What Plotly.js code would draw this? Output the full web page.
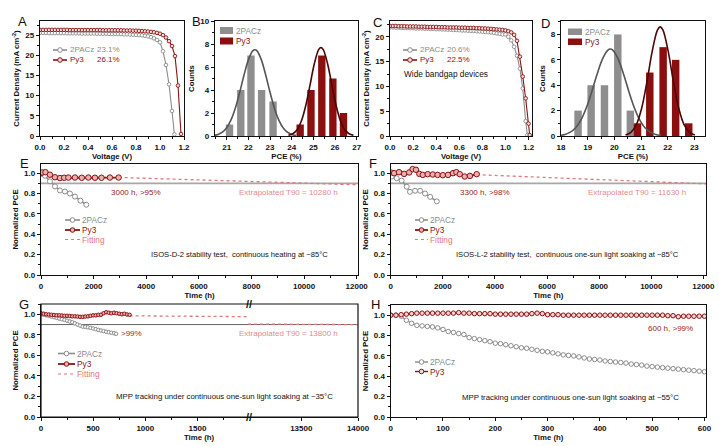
<!DOCTYPE html>
<html><head><meta charset="utf-8">
<script src="https://cdn.plot.ly/plotly-3.0.1.min.js"></script>
<style>html,body{margin:0;padding:0;background:#fff}#chart{width:719px;height:446px}</style>
</head><body><div id="chart"></div>
<script>
// ---------- DATA ----------
// A: J-V (normal bandgap)
const A_V_2PACz = [0,0.025,0.05,0.075,0.1,0.125,0.15,0.175,0.2,0.225,0.25,0.275,0.3,0.325,0.35,0.375,0.4,0.425,0.45,0.475,0.5,0.525,0.55,0.575,0.6,0.625,0.65,0.675,0.7,0.725,0.75,0.775,0.8,0.825,0.85,0.875,0.9,0.925,0.95,0.975,1.0,1.025,1.05,1.075,1.1,1.12];
const A_J_2PACz = [25.55,25.55,25.55,25.5,25.5,25.5,25.5,25.5,25.5,25.45,25.45,25.45,25.45,25.45,25.4,25.4,25.4,25.4,25.4,25.35,25.35,25.35,25.35,25.3,25.3,25.3,25.25,25.25,25.2,25.2,25.15,25.1,25.05,25.0,24.95,24.85,24.7,24.5,24.2,23.8,23.2,21.0,17.6,12.8,6.2,0.4];
const A_V_Py3 = [0,0.025,0.05,0.075,0.1,0.125,0.15,0.175,0.2,0.225,0.25,0.275,0.3,0.325,0.35,0.375,0.4,0.425,0.45,0.475,0.5,0.525,0.55,0.575,0.6,0.625,0.65,0.675,0.7,0.725,0.75,0.775,0.8,0.825,0.85,0.875,0.9,0.925,0.95,0.975,1.0,1.025,1.05,1.075,1.1,1.125,1.15,1.175];
const A_J_Py3 = [26.3,26.3,26.3,26.3,26.3,26.3,26.3,26.3,26.3,26.3,26.25,26.25,26.25,26.25,26.25,26.25,26.25,26.25,26.25,26.25,26.25,26.2,26.2,26.2,26.2,26.2,26.2,26.2,26.15,26.15,26.15,26.1,26.1,26.05,26.0,25.95,25.9,25.8,25.7,25.55,25.35,25.0,24.4,23.5,22.3,19.8,12.5,0.5];
// B: PCE histogram (normal bandgap)
const B_PCE_2PACz = [21.13,21.65,22.12,22.61,23.14];
const B_N_2PACz = [1,4,7,4,3];
const B_PCE_Py3 = [24.39,24.89,25.39,25.9,26.39];
const B_N_Py3 = [1,4,7,5,2];
const B_FIT_X_2PACz = [20.4,20.6,20.8,21.0,21.2,21.4,21.6,21.8,22.0,22.2,22.3,22.4,22.6,22.8,23.0,23.2,23.4,23.6,23.8,24.0,24.2];
const B_FIT_Y_2PACz = [0.05,0.14,0.33,0.72,1.40,2.43,3.80,5.30,6.62,7.40,7.5,7.40,6.62,5.30,3.80,2.43,1.40,0.72,0.33,0.14,0.05];
const B_FIT_X_Py3 = [23.85,24.05,24.25,24.45,24.65,24.85,25.05,25.25,25.35,25.45,25.65,25.85,26.05,26.25,26.45,26.65,26.85];
const B_FIT_Y_Py3 = [0.06,0.20,0.55,1.32,2.65,4.47,6.33,7.53,7.7,7.53,6.33,4.47,2.65,1.32,0.55,0.20,0.06];
// C: J-V (wide bandgap)
const C_V_2PACz = [0,0.025,0.05,0.075,0.1,0.125,0.15,0.175,0.2,0.225,0.25,0.275,0.3,0.325,0.35,0.375,0.4,0.425,0.45,0.475,0.5,0.525,0.55,0.575,0.6,0.625,0.65,0.675,0.7,0.725,0.75,0.775,0.8,0.825,0.85,0.875,0.9,0.925,0.95,0.975,1.0,1.025,1.05,1.075,1.1,1.125,1.15,1.175,1.19];
const C_J_2PACz = [21.9,21.9,21.85,21.85,21.8,21.8,21.8,21.75,21.75,21.7,21.7,21.7,21.65,21.65,21.6,21.6,21.55,21.55,21.5,21.5,21.45,21.45,21.4,21.4,21.35,21.3,21.3,21.25,21.2,21.2,21.15,21.1,21.05,21.0,20.95,20.9,20.8,20.7,20.6,20.5,20.5,20.0,19.3,18.0,16.2,13.6,9.6,3.0,0.2];
const C_V_Py3 = [0,0.025,0.05,0.075,0.1,0.125,0.15,0.175,0.2,0.225,0.25,0.275,0.3,0.325,0.35,0.375,0.4,0.425,0.45,0.475,0.5,0.525,0.55,0.575,0.6,0.625,0.65,0.675,0.7,0.725,0.75,0.775,0.8,0.825,0.85,0.875,0.9,0.925,0.95,0.975,1.0,1.025,1.05,1.075,1.1,1.125,1.15,1.175,1.2,1.21];
const C_J_Py3 = [22.2,22.2,22.2,22.15,22.15,22.15,22.1,22.1,22.1,22.1,22.05,22.05,22.05,22.0,22.0,22.0,22.0,21.95,21.95,21.95,21.9,21.9,21.9,21.9,21.85,21.85,21.85,21.8,21.8,21.8,21.75,21.75,21.7,21.7,21.65,21.6,21.55,21.5,21.45,21.4,21.3,21.15,20.9,20.4,19.2,16.0,12.0,7.6,2.5,0.2];
// D: PCE histogram (wide bandgap)
const D_PCE_2PACz = [18.64,19.13,19.63,20.13,20.6];
const D_N_2PACz = [2,4,4,8,2];
const D_PCE_Py3 = [20.87,21.33,21.83,22.3,22.79];
const D_N_Py3 = [1,5,7,6,1];
const D_FIT_X_2PACz = [17.95,18.15,18.35,18.55,18.75,18.95,19.15,19.35,19.55,19.75,19.85,19.95,20.15,20.35,20.55,20.75,20.95,21.15,21.35,21.55,21.75];
const D_FIT_Y_2PACz = [0.05,0.12,0.30,0.65,1.27,2.23,3.47,4.84,6.04,6.75,6.85,6.75,6.04,4.84,3.47,2.23,1.27,0.65,0.30,0.12,0.05];
const D_FIT_X_Py3 = [20.42,20.62,20.82,21.02,21.22,21.42,21.62,21.72,21.82,22.02,22.22,22.42,22.62,22.82,23.02];
const D_FIT_Y_Py3 = [0.07,0.28,0.87,2.15,4.24,6.66,8.36,8.6,8.36,6.66,4.24,2.15,0.87,0.28,0.07];
// E: ISOS-D-2
const E_T_2PACz = [0,80,150,340,530,720,910,1100,1290,1500,1720];
const E_P_2PACz = [1.0,0.99,0.975,0.92,0.87,0.83,0.82,0.80,0.77,0.73,0.69];
const E_T_Py3 = [0,50,170,340,530,720,880,1040,1290,1550,1800,2050,2300,2620,2950];
const E_P_Py3 = [1.0,1.007,1.01,0.985,0.96,0.952,0.955,0.957,0.957,0.955,0.957,0.955,0.955,0.957,0.957];
const E_FIT_T = [2950,12050];
const E_FIT_P = [0.958,0.886];
// F: ISOS-L-2
const F_T_2PACz = [0,40,230,420,615,740,935,1130,1320,1515,1770];
const F_P_2PACz = [1.0,0.967,0.95,0.927,0.867,0.817,0.827,0.827,0.80,0.767,0.723];
const F_T_Py3 = [0,130,320,515,710,840,970,1100,1230,1420,1615,1800,2000,2200,2390,2520,2650,2840,3040,3300];
const F_P_Py3 = [1.007,1.0,1.01,0.993,1.007,1.04,1.033,0.993,0.983,0.99,0.987,0.983,0.98,0.983,1.0,1.01,0.99,0.967,0.973,0.99];
const F_FIT_T = [3300,12100];
const F_FIT_P = [0.985,0.895];
// G: MPP ~35C (broken axis)
const G_T_2PACz = [0,25,50,75,100,125,150,175,200,225,250,275,300,325,350,375,400,425,450,475,500,525,550,575,600,625,650,675,700,720];
const G_P_2PACz = [1.0,0.995,0.99,0.985,0.978,0.972,0.965,0.958,0.952,0.945,0.938,0.93,0.922,0.912,0.9,0.89,0.88,0.877,0.873,0.868,0.862,0.855,0.848,0.842,0.836,0.83,0.825,0.82,0.815,0.81];
const G_T_Py3 = [0,25,50,75,100,125,150,175,200,225,250,275,300,325,350,375,400,425,450,475,500,525,550,575,600,625,650,675,700,725,750,775,800,825,850];
const G_P_Py3 = [1.01,1.005,1.0,0.998,0.995,0.993,0.99,0.99,0.988,0.985,0.985,0.983,0.98,0.98,0.978,0.975,0.975,0.978,0.98,0.985,0.99,0.99,0.995,0.995,1.01,1.02,1.015,1.01,1.015,1.01,1.005,1.0,1.005,0.998,0.995];
const G_FIT_T_LEFT = [850,1985];
const G_FIT_P_LEFT = [0.985,0.977];
const G_FIT_T_RIGHT = [13030,14000];
const G_FIT_P_RIGHT = [0.905,0.899];
// H: MPP ~55C
const H_T = [0,10,20,30,40,50,60,70,80,90,100,110,120,130,140,150,160,170,180,190,200,210,220,230,240,250,260,270,280,290,300,310,320,330,340,350,360,370,380,390,400,410,420,430,440,450,460,470,480,490,500,510,520,530,540,550,560,570,580,590,600];
const H_P_2PACz = [1.0,1.0,0.99,0.95,0.92,0.90,0.895,0.89,0.885,0.875,0.86,0.84,0.83,0.82,0.81,0.78,0.77,0.76,0.75,0.74,0.725,0.72,0.71,0.70,0.69,0.68,0.675,0.665,0.655,0.645,0.64,0.63,0.62,0.61,0.605,0.60,0.59,0.58,0.57,0.565,0.56,0.55,0.545,0.54,0.535,0.53,0.52,0.515,0.51,0.50,0.495,0.49,0.485,0.48,0.475,0.47,0.465,0.46,0.455,0.45,0.445];
const H_P_Py3 = [1.0,1.0,1.005,1.01,1.015,1.02,1.02,1.02,1.02,1.02,1.02,1.02,1.02,1.025,1.02,1.02,1.015,1.015,1.015,1.015,1.01,1.01,1.01,1.01,1.01,1.01,1.01,1.015,1.02,1.015,1.005,1.005,1.005,1.0,1.0,1.0,1.0,1.0,1.0,1.0,1.0,1.0,1.0,1.0,1.0,1.0,1.0,1.0,1.0,1.0,1.0,1.0,1.0,0.995,0.995,0.985,0.99,0.99,0.99,0.99,0.99];
const T90_LEVEL = [0.9,0.9];
const T90_SPAN_E = [0,12050];
const T90_SPAN_F = [0,12100];
const T90_SPAN_G_LEFT = [0,1985];
const T90_SPAN_G_RIGHT = [13030,14000];

// ---------- STYLE ----------
const FONT = 'Arial, "Liberation Sans", Helvetica, sans-serif';
const GRAY = '#8c8c8c', RED = '#8b1212', REDFILL = '#eab0b0', FIT = '#e07878';
const GBAR = '#8e8e8e', RBAR = '#8b0f0f', GFIT = '#555555', RFIT = '#4a0808';
const X = p => p / 719, Y = p => 1 - p / 446;

function ax(dom, rng, o, title, standoff) {
  const a = {
    domain: dom, range: rng, showline: true, linecolor: '#111', linewidth: 1.2, mirror: true,
    ticks: 'outside', ticklen: 3, tickwidth: 1, tickcolor: '#111',
    tickfont: {family: FONT, size: 8, color: '#111', weight: 'bold'},
    showgrid: false, zeroline: false, automargin: false, fixedrange: true
  };
  if (title) a.title = {text: title, standoff: standoff, font: {family: FONT, size: 7.8, color: '#111', weight: 'bold'}};
  return Object.assign(a, o);
}
const minor = (d) => ({ticks: 'outside', ticklen: 1.8, tickcolor: '#111', dtick: d});

// ---------- TRACES ----------
const traces = [];
function jv(x, y, col, fill, xa, ya) {
  traces.push({x, y, xaxis: xa, yaxis: ya, mode: 'lines+markers', type: 'scatter',
    line: {color: col, width: 1.1}, marker: {size: 3.6, color: fill, line: {color: col, width: 0.9}}});
}
jv(A_V_2PACz, A_J_2PACz, GRAY, '#ffffff', 'x', 'y');
jv(A_V_Py3, A_J_Py3, RED, '#f6dede', 'x', 'y');
jv(C_V_2PACz, C_J_2PACz, GRAY, '#ffffff', 'x3', 'y3');
jv(C_V_Py3, C_J_Py3, RED, '#f6dede', 'x3', 'y3');

function bars(x, y, col, w, xa, ya) {
  traces.push({type: 'bar', x, y, width: w, xaxis: xa, yaxis: ya, marker: {color: col, line: {width: 0}}});
}
function gfit(x, y, col, xa, ya) {
  traces.push({type: 'scatter', mode: 'lines', x, y, xaxis: xa, yaxis: ya, line: {color: col, width: 1.6, shape: 'spline'}});
}
bars(B_PCE_2PACz, B_N_2PACz, GBAR, 0.34, 'x2', 'y2');
bars(B_PCE_Py3, B_N_Py3, RBAR, 0.34, 'x2', 'y2');
gfit(B_FIT_X_2PACz, B_FIT_Y_2PACz, GFIT, 'x2', 'y2');
gfit(B_FIT_X_Py3, B_FIT_Y_Py3, RFIT, 'x2', 'y2');
bars(D_PCE_2PACz, D_N_2PACz, GBAR, 0.28, 'x4', 'y4');
bars(D_PCE_Py3, D_N_Py3, RBAR, 0.28, 'x4', 'y4');
gfit(D_FIT_X_2PACz, D_FIT_Y_2PACz, GFIT, 'x4', 'y4');
gfit(D_FIT_X_Py3, D_FIT_Y_Py3, RFIT, 'x4', 'y4');

function refline(x, y, col, w, xa, ya) {
  traces.push({type: 'scatter', mode: 'lines', x, y, xaxis: xa, yaxis: ya, line: {color: col, width: w}});
}
function fitline(x, y, xa, ya) {
  traces.push({type: 'scatter', mode: 'lines', x, y, xaxis: xa, yaxis: ya, line: {color: FIT, width: 1.3, dash: 'dot'}});
}
function stab(x, y, col, fill, size, lw, xa, ya) {
  traces.push({type: 'scatter', mode: 'lines+markers', x, y, xaxis: xa, yaxis: ya,
    line: {color: col, width: lw}, marker: {size: size, color: fill, line: {color: col, width: 1}}});
}
// E
refline(T90_SPAN_E, T90_LEVEL, '#a8a8a8', 1.8, 'x5', 'y5');
fitline(E_FIT_T, E_FIT_P, 'x5', 'y5');
stab(E_T_2PACz, E_P_2PACz, GRAY, '#ffffff', 5, 1.6, 'x5', 'y5');
stab(E_T_Py3, E_P_Py3, RED, REDFILL, 5.5, 1.8, 'x5', 'y5');
// F
refline(T90_SPAN_F, T90_LEVEL, '#a8a8a8', 1.8, 'x6', 'y6');
fitline(F_FIT_T, F_FIT_P, 'x6', 'y6');
stab(F_T_2PACz, F_P_2PACz, GRAY, '#ffffff', 5, 1.6, 'x6', 'y6');
stab(F_T_Py3, F_P_Py3, RED, REDFILL, 5.5, 1.8, 'x6', 'y6');
// G
refline(T90_SPAN_G_LEFT, T90_LEVEL, '#555555', 0.9, 'x7', 'y7');
refline(T90_SPAN_G_RIGHT, T90_LEVEL, '#555555', 0.9, 'x8', 'y7');
fitline(G_FIT_T_LEFT, G_FIT_P_LEFT, 'x7', 'y7');
fitline(G_FIT_T_RIGHT, G_FIT_P_RIGHT, 'x8', 'y7');
stab(G_T_2PACz, G_P_2PACz, GRAY, '#ffffff', 3.5, 1.8, 'x7', 'y7');
stab(G_T_Py3, G_P_Py3, RED, REDFILL, 3.5, 1.8, 'x7', 'y7');
// H
stab(H_T, H_P_2PACz, GRAY, '#ffffff', 4.5, 1.2, 'x9', 'y8');
stab(H_T, H_P_Py3, RED, '#f3d3d3', 4.5, 1.2, 'x9', 'y8');

// ---------- ANNOTATIONS / LEGENDS ----------
const shapes = [], annotations = [];
function txt(x, y, s, color, size, o) {
  annotations.push(Object.assign({xref: 'paper', yref: 'paper', x: X(x), y: Y(y), text: s, showarrow: false,
    xanchor: 'left', yanchor: 'middle', borderpad: 0, font: {family: FONT, size: size, color: color}}, o || {}));
}
function legLine(x0, x1, y, col, w, dash, fill) {
  shapes.push({type: 'line', xref: 'paper', yref: 'paper', x0: X(x0), x1: X(x1), y0: Y(y), y1: Y(y), line: {color: col, width: w, dash: dash || 'solid'}});
  if (fill) {
    const cx = (x0 + x1) / 2, r = 2.3;
    shapes.push({type: 'circle', xref: 'paper', yref: 'paper', x0: X(cx - r), x1: X(cx + r), y0: Y(y + r), y1: Y(y - r), fillcolor: fill, line: {color: col, width: 1}});
  }
}
function legBox(x0, x1, y0, y1, col) {
  shapes.push({type: 'rect', xref: 'paper', yref: 'paper', x0: X(x0), x1: X(x1), y0: Y(y1), y1: Y(y0), fillcolor: col, line: {width: 0}});
}
// panel letters
[['A', 22, 21], ['B', 196, 21], ['C', 378, 22], ['D', 545, 23], ['E', 24, 164], ['F', 373, 164], ['G', 24, 304], ['H', 375, 304]]
  .forEach(([l, x, y]) => txt(x, y, l, '#111', 13, {xanchor: 'center'}));
// A legend
legLine(53, 67, 50, GRAY, 1.6, null, '#ffffff'); txt(69, 50, '2PACz', GRAY, 8); txt(96, 50, '23.1%', GRAY, 8);
legLine(53, 67, 60, RED, 1.6, null, '#f6dede'); txt(69, 60, 'Py3', RED, 8); txt(96, 60, '26.1%', RED, 8);
// C legend
legLine(403, 417, 50, GRAY, 1.6, null, '#ffffff'); txt(419, 50, '2PACz', GRAY, 8); txt(446, 50, '20.6%', GRAY, 8);
legLine(403, 417, 60, RED, 1.6, null, '#f6dede'); txt(419, 60, 'Py3', RED, 8); txt(446, 60, '22.5%', RED, 8);
txt(403, 74, 'Wide bandgap devices', '#111', 8.3);
// B legend
legBox(220, 233, 27, 34, GBAR); txt(235, 30.5, '2PACz', GRAY, 8.3);
legBox(220, 233, 37.5, 44.5, RBAR); txt(235, 41, 'Py3', RED, 8.3);
// D legend
legBox(568, 582, 28.5, 35, GBAR); txt(584, 31.5, '2PACz', GRAY, 8.3);
legBox(568, 582, 38.5, 45, RBAR); txt(584, 42, 'Py3', RED, 8.3);
// E legend + text
legLine(65, 80, 220, GRAY, 1.6, null, '#ffffff'); txt(81, 220, '2PACz', GRAY, 8.3);
legLine(65, 80, 230, RED, 1.8, null, REDFILL); txt(81, 230, 'Py3', RED, 8.3);
legLine(65, 80, 239.5, FIT, 1.2, 'dot'); txt(81, 239.5, 'Fitting', FIT, 8.3);
txt(110, 192, '3000 h, &gt;95%', '#9a2424', 8);
txt(238, 192.5, 'Extrapolated T90 = 10280 h', '#e38c8c', 8);
txt(150, 254, 'ISOS-D-2 stability test,\u00a0\u00a0continuous heating at ~85°C', '#111', 7.6);
// F legend + text
legLine(415, 428, 220, GRAY, 1.6, null, '#ffffff'); txt(429, 220, '2PACz', GRAY, 8.3);
legLine(415, 428, 230, RED, 1.8, null, REDFILL); txt(429, 230, 'Py3', RED, 8.3);
legLine(415, 428, 239.5, FIT, 1.2, 'dot'); txt(429, 239.5, 'Fitting', FIT, 8.3);
txt(459, 192, '3300 h, &gt;98%', '#9a2424', 8);
txt(587, 192.5, 'Extrapolated T90 = 11630 h', '#e38c8c', 8);
txt(455, 254, 'ISOS-L-2 stability test,\u00a0\u00a0continuous one-sun light soaking at ~85°C', '#111', 7.6);
// G legend + text
legLine(58, 75, 353.5, GRAY, 1.6, null, '#ffffff'); txt(76, 353.5, '2PACz', GRAY, 8.3);
legLine(58, 75, 364, RED, 1.8, null, REDFILL); txt(76, 364, 'Py3', RED, 8.3);
legLine(58, 75, 374, FIT, 1.2, 'dot'); txt(76, 374, 'Fitting', FIT, 8.3);
txt(120, 333.5, '&gt;99%', '#8b3030', 8);
txt(238, 333.5, 'Extrapolated T90 = 13800 h', '#e38c8c', 8);
txt(115, 396, 'MPP tracking under continuous one-sun light soaking at ~35°C', '#111', 7.8);
txt(199, 437, 'Time (h)', '#111', 7.8, {xanchor: 'center', font: {family: FONT, size: 7.8, color: '#111', weight: 'bold'}});
// G break marks and frame
shapes.push({type: 'rect', xref: 'paper', yref: 'paper', x0: X(41), x1: X(358), y0: Y(417), y1: Y(304), line: {color: '#111', width: 1.2}, fillcolor: 'rgba(0,0,0,0)'});
txt(249, 303.5, '//', '#111', 11, {xanchor: 'center', font: {family: FONT, size: 11, color: '#111', weight: 'bold'}});
txt(249, 417, '//', '#111', 11, {xanchor: 'center', font: {family: FONT, size: 11, color: '#111', weight: 'bold'}});
// H legend + text
legLine(415, 428, 362, GRAY, 1.4, null, '#ffffff'); txt(429, 362, '2PACz', GRAY, 8.3);
legLine(415, 428, 371.5, RED, 1.4, null, '#f3d3d3'); txt(429, 371.5, 'Py3', RED, 8.3);
txt(647, 328.5, '600 h, &gt;99%', '#9a2424', 8);
txt(461, 397, 'MPP tracking under continuous one-sun light soaking at ~55°C', '#111', 7.8);

// ---------- LAYOUT ----------
const JT = 'Current Density (mA cm<sup>-2</sup>)';
const layout = {
  width: 719, height: 446, margin: {l: 0, r: 0, t: 0, b: 0},
  paper_bgcolor: '#fff', plot_bgcolor: '#fff', showlegend: false, barmode: 'overlay',
  font: {family: FONT},
  xaxis: ax([X(40), X(184)], [0, 1.2], {dtick: 0.2, tickformat: '.1f', anchor: 'y', minor: minor(0.1)}, 'Voltage (V)', 2),
  yaxis: ax([Y(136), Y(21)], [0, 28.5], {dtick: 5, anchor: 'x', minor: minor(2.5)}, JT, 4),
  xaxis2: ax([X(215), X(358)], [20.46, 27.06], {dtick: 1, anchor: 'y2', minor: minor(0.5)}, 'PCE (%)', 2),
  yaxis2: ax([Y(136), Y(21)], [0, 10], {dtick: 2, anchor: 'x2', minor: minor(1)}, 'Counts', 4),
  xaxis3: ax([X(390), X(532)], [0, 1.23], {dtick: 0.2, tickformat: '.1f', anchor: 'y3', minor: minor(0.1)}, 'Voltage (V)', 2),
  yaxis3: ax([Y(136), Y(21)], [0, 23.2], {dtick: 5, anchor: 'x3', minor: minor(2.5)}, JT, 4),
  xaxis4: ax([X(561), X(705)], [18, 23.4], {dtick: 1, anchor: 'y4', minor: minor(0.5)}, 'PCE (%)', 2),
  yaxis4: ax([Y(136), Y(21)], [0, 9.06], {dtick: 2, anchor: 'x4', minor: minor(1)}, 'Counts', 4),
  xaxis5: ax([X(41), X(358)], [0, 12050], {dtick: 2000, tickformat: 'd', anchor: 'y5', minor: minor(1000)}, 'Time (h)', 2),
  yaxis5: ax([Y(275), Y(164)], [0, 1.09], {dtick: 0.2, tickformat: '.1f', anchor: 'x5', minor: minor(0.1)}, 'Normalized PCE', 4),
  xaxis6: ax([X(390.7), X(706)], [0, 12100], {dtick: 2000, tickformat: 'd', anchor: 'y6', minor: minor(1000)}, 'Time (h)', 2),
  yaxis6: ax([Y(275), Y(164)], [0, 1.09], {dtick: 0.2, tickformat: '.1f', anchor: 'x6', minor: minor(0.1)}, 'Normalized PCE', 4),
  xaxis7: ax([X(41), X(248)], [0, 1985], {dtick: 500, tickformat: 'd', anchor: 'y7', mirror: false, minor: minor(250)}),
  xaxis8: ax([X(248), X(358)], [13030, 14000], {tickvals: [13500, 14000], tickformat: 'd', anchor: 'y7', mirror: false}),
  yaxis7: ax([Y(417), Y(304)], [0, 1.1], {dtick: 0.2, tickformat: '.1f', anchor: 'x7', mirror: false, minor: minor(0.1)}, 'Normalized PCE', 4),
  xaxis9: ax([X(390.7), X(706)], [0, 603], {dtick: 100, tickformat: 'd', anchor: 'y8', minor: minor(50)}, 'Time (h)', 2),
  yaxis8: ax([Y(417), Y(305)], [0, 1.1], {dtick: 0.2, tickformat: '.1f', anchor: 'x9', minor: minor(0.1)}, 'Normalized PCE', 4),
  shapes, annotations
};
Plotly.newPlot('chart', traces, layout, {displayModeBar: false, staticPlot: true});
</script></body></html>
